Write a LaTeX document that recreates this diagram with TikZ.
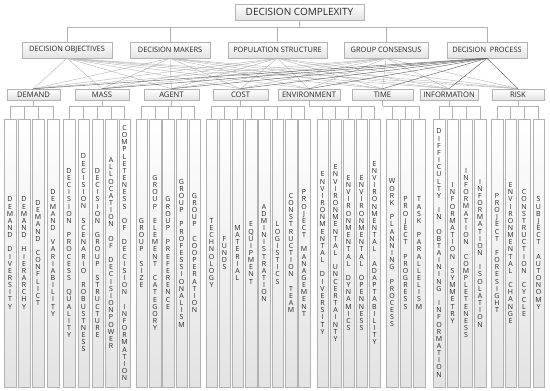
\documentclass[tikz,border=0pt]{standalone}
\usepackage{fontspec}
\setmainfont{Open Sans}
\newcommand\vletters[1]{\vlettersA#1\relax}
\def\vlettersA#1{\ifx\relax#1\else\hbox to 9pt{\hss#1\hss}\expandafter\vlettersA\fi}
\newcommand\vtext[1]{\vbox{\baselineskip=7.15pt\lineskiplimit=-20pt\lineskip=0pt
  \foreach \w [count=\i] in {#1}{\ifnum\i>1 \hbox{}\fi\expandafter\vletters\expandafter{\w}}}}
\begin{document}
\begin{tikzpicture}[x=1pt,y=-1pt,
  conn/.style={draw=gray!60, line width=0.4pt},
  dconn/.style={draw=black!60, line width=0.45pt},
  boxbase/.style={draw=gray!60, line width=0.5pt, top color=white, bottom color=gray!22, inner sep=0pt, text=black!85},
  topbox/.style={boxbase, minimum height=16pt, font=\fontsize{10}{12}\selectfont},
  lvtwo/.style={boxbase, minimum height=16pt, font=\fontsize{7.4}{9}\selectfont},
  lvthree/.style={boxbase, minimum height=11pt, font=\fontsize{7.6}{9}\selectfont},
  leaf/.style={boxbase, minimum width=11.5pt, minimum height=268pt, font=\fontsize{7}{7.15}\selectfont}
]
\useasboundingbox (0,0) rectangle (550,391);
% top
\node[topbox, minimum width=129pt] (top) at (299.5,12) {DECISION COMPLEXITY};
% level 2
\node[lvtwo, minimum width=90pt] (do) at (67,50) {DECISION OBJECTIVES};
\node[lvtwo, minimum width=80pt] (dm) at (170,50) {DECISION MAKERS};
\node[lvtwo, minimum width=99pt] (ps) at (277.5,50) {POPULATION STRUCTURE};
\node[lvtwo, minimum width=84pt] (gc) at (386,50) {GROUP CONSENSUS};
\node[lvtwo, minimum width=80pt] (dp) at (487,50) {DECISION\ \ PROCESS};
% level 3
\node[lvthree, minimum width=53pt] (dem) at (33.5,94.5) {DEMAND};
\node[lvthree, minimum width=54pt] (mas) at (102,94.5) {MASS};
\node[lvthree, minimum width=55pt] (age) at (171.5,94.5) {AGENT};
\node[lvthree, minimum width=55pt] (cos) at (240.5,94.5) {COST};
\node[lvthree, minimum width=62pt] (env) at (309,94.5) {ENVIRONMENT};
\node[lvthree, minimum width=61pt] (tim) at (382.5,94.5) {TIME};
\node[lvthree, minimum width=58pt] (inf) at (449,94.5) {INFORMATION};
\node[lvthree, minimum width=52pt] (ris) at (518,94.5) {RISK};
% leaves
\node[leaf] (d1) at (10,253) {\vtext{DEMAND,DIVERSITY}};
\node[leaf] (d2) at (24,253) {\vtext{DEMAND,HIERARCHY}};
\node[leaf] (d3) at (38,253) {\vtext{DEMAND,CONFLICT}};
\node[leaf] (d4) at (53,253) {\vtext{DEMAND,VARIABILITY}};
\node[leaf] (m1) at (69,253) {\vtext{DECISION,PROCESS,QUALITY}};
\node[leaf] (m2) at (83.5,253) {\vtext{DECISION,SCENARIO,ROBUSTNESS}};
\node[leaf] (m3) at (97.5,253) {\vtext{DECISION,GROUP,STRUCTURE}};
\node[leaf] (m4) at (111,253) {\vtext{ALLOCATION,OF,DECISIONPOWER}};
\node[leaf] (m5) at (124.5,253) {\vtext{COMPLETENESS,OF,DECISION,INFORMATION}};
\node[leaf] (a1) at (141.5,253) {\vtext{GROUP,SIZE}};
\node[leaf] (a2) at (155,253) {\vtext{GROUP,ELEMENT,CATEGORY}};
\node[leaf] (a3) at (168,253) {\vtext{GROUP,PREFERENCE}};
\node[leaf] (a4) at (181.5,253) {\vtext{GROUP,PROFESSIONALISM}};
\node[leaf] (a5) at (194.5,253) {\vtext{GROUP,COOPERATION}};
\node[leaf] (c1) at (211.5,253) {\vtext{TECHNOLOGY}};
\node[leaf] (c2) at (224.5,253) {\vtext{FUNDS}};
\node[leaf] (c3) at (237.5,253) {\vtext{MATERIAL}};
\node[leaf] (c4) at (251,253) {\vtext{EQUIPMENT}};
\node[leaf] (c5) at (264,253) {\vtext{ADMINISTRATION}};
\node[leaf] (c6) at (277.5,253) {\vtext{LOGISTICS}};
\node[leaf] (c7) at (291,253) {\vtext{CONSTRUCTION,TEAM}};
\node[leaf] (c8) at (304,253) {\vtext{PROJECT,MANAGEMENT}};
\node[leaf] (e1) at (322.5,253) {\vtext{ENVIRONMENTAL,DIVERSITY}};
\node[leaf] (e2) at (335.5,253) {\vtext{ENVIRONMENTAL,UNCERTAINTY}};
\node[leaf] (e3) at (348.5,253) {\vtext{ENVIRONMENTAL,DYNAMICS}};
\node[leaf] (e4) at (361.5,253) {\vtext{ENVIRONMENTAL,OPENNESS}};
\node[leaf] (e5) at (374.5,253) {\vtext{ENVIRONMENTAL,ADAPTABILITY}};
\node[leaf] (t1) at (392,253) {\vtext{WORK,PLANNING,PROCESS}};
\node[leaf] (t2) at (405.5,253) {\vtext{PROJECT,PROGRESS}};
\node[leaf] (t3) at (419,253) {\vtext{TASK,PARALLELISM}};
\node[leaf] (i1) at (439,253) {\vtext{DIFFICULTY,IN,OBTAINING,INFORMATION}};
\node[leaf] (i2) at (452.5,253) {\vtext{INFORMATION,SYMMETRY}};
\node[leaf] (i3) at (466,253) {\vtext{INFORMATION,COMPLETENESS}};
\node[leaf] (i4) at (480,253) {\vtext{INFORMATION,ISOLATION}};
\node[leaf] (r1) at (497,253) {\vtext{PROJECT,FORESIGHT}};
\node[leaf] (r2) at (510.5,253) {\vtext{ENVIRONMENTAL,CHANGE}};
\node[leaf] (r3) at (524,253) {\vtext{CONSTRUCTION,CYCLE}};
\node[leaf] (r4) at (538.5,253) {\vtext{SUBJECT,AUTONOMY}};
% top connectors
\draw[conn] (top.south) -- ++(0,7) coordinate (topj);
\foreach \n in {do,dm,ps,gc,dp} \draw[conn] (\n.north) |- (topj);
% level 2 to level 3
\foreach \a in {do,dm,ps,gc}
  \foreach \b in {dem,mas,age,cos,env,tim,inf,ris}
    \draw[conn] (\a.south) -- (\b.north);
\foreach \b in {dem,mas,age,cos,env,tim,inf,ris}
  \draw[dconn] (dp.south) -- (\b.north);
% brackets
\draw[conn] (dem.south) -- ++(0,6) coordinate (demj);
\foreach \n in {d1,d2,d3,d4} \draw[conn] (\n.north) |- (demj);
\draw[conn] (mas.south) -- ++(0,6) coordinate (masj);
\foreach \n in {m1,m2,m3,m4,m5} \draw[conn] (\n.north) |- (masj);
\draw[conn] (age.south) -- ++(0,6) coordinate (agej);
\foreach \n in {a1,a2,a3,a4,a5} \draw[conn] (\n.north) |- (agej);
\draw[conn] (cos.south) -- ++(0,6) coordinate (cosj);
\foreach \n in {c1,c2,c3,c4,c5,c6,c7,c8} \draw[conn] (\n.north) |- (cosj);
\draw[conn] (env.south) -- ++(0,6) coordinate (envj);
\foreach \n in {e1,e2,e3,e4,e5} \draw[conn] (\n.north) |- (envj);
\draw[conn] (tim.south) -- ++(0,6) coordinate (timj);
\foreach \n in {t1,t2,t3} \draw[conn] (\n.north) |- (timj);
\draw[conn] (inf.south) -- ++(0,6) coordinate (infj);
\foreach \n in {i1,i2,i3,i4} \draw[conn] (\n.north) |- (infj);
\draw[conn] (ris.south) -- ++(0,6) coordinate (risj);
\foreach \n in {r1,r2,r3,r4} \draw[conn] (\n.north) |- (risj);
\end{tikzpicture}
\end{document}
